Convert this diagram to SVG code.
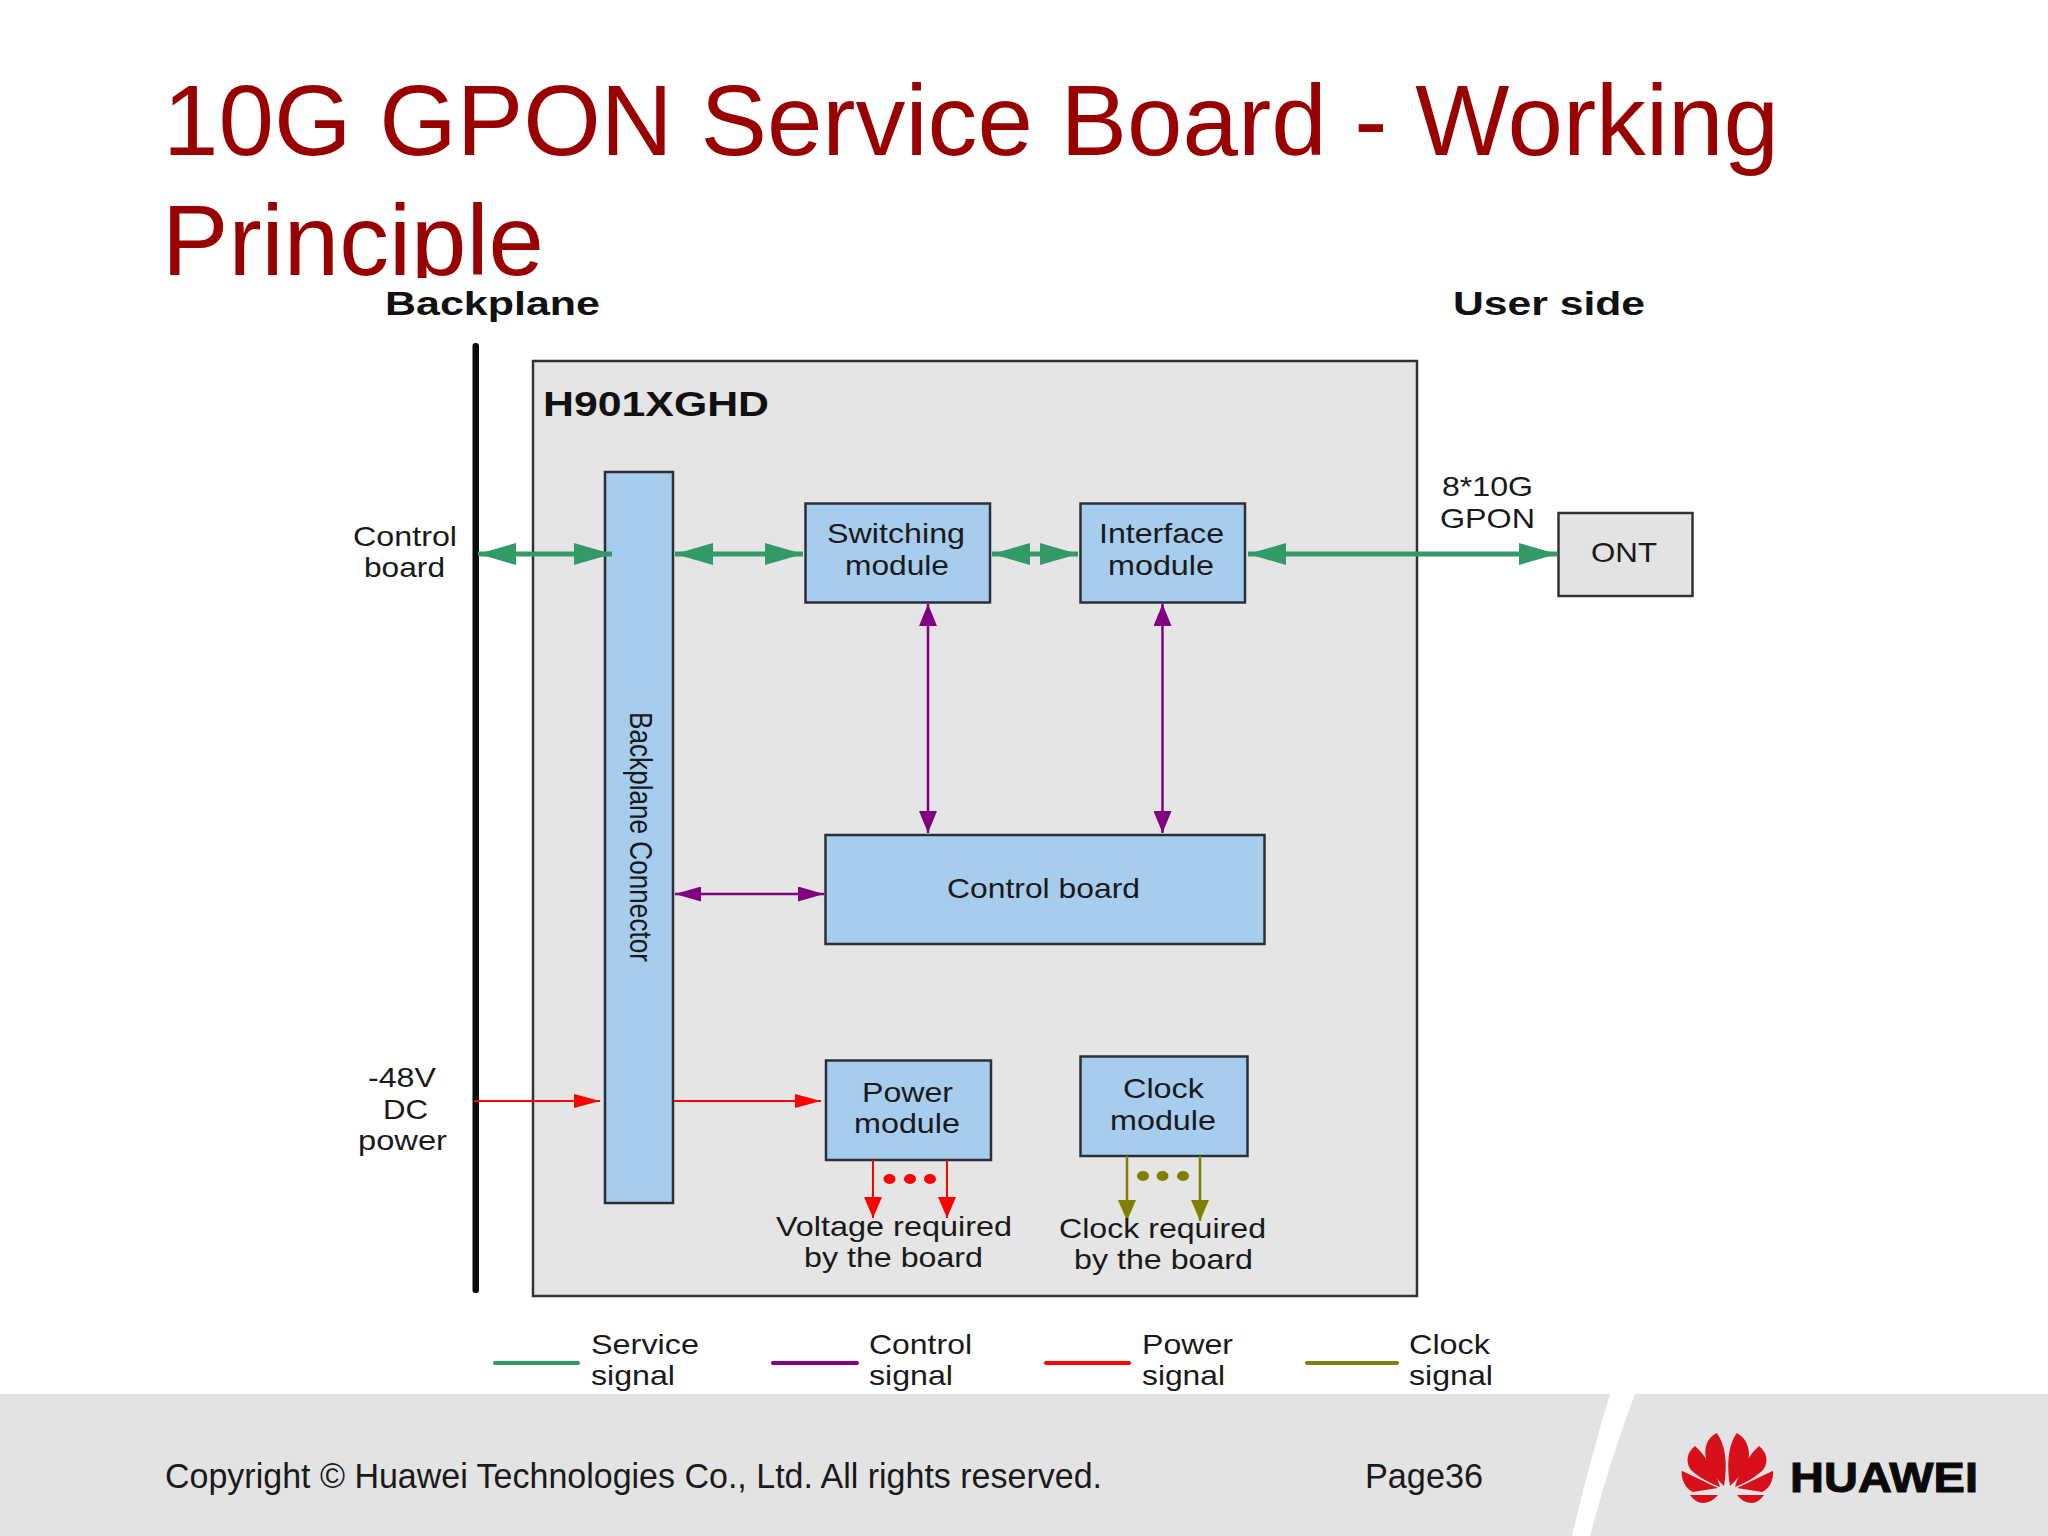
<svg xmlns="http://www.w3.org/2000/svg" width="2048" height="1536" viewBox="0 0 2048 1536">
<style>
text{font-family:"Liberation Sans",Arial,sans-serif;fill:#1a1a1a;font-size:28px}
.b{font-weight:700;font-size:33px;fill:#111}
.title{font-size:100px;fill:#990000}
.foot{font-size:34.500px;fill:#1a1a1a}
.box{fill:#a6cdee;stroke:#2b2f36;stroke-width:2.5}
.green{stroke:#339966;stroke-width:5;fill:none}
.purple{stroke:#800080;stroke-width:2.5;fill:none}
.red{stroke:#ff0000;stroke-width:2;fill:none}
.olive{stroke:#808000;stroke-width:2.5;fill:none}
.lg{stroke-width:4;stroke-linecap:round;fill:none}
</style>
<defs>
<marker id="mg" markerUnits="userSpaceOnUse" markerWidth="38" markerHeight="22" refX="38" refY="11" orient="auto-start-reverse"><path d="M0 0L38 11L0 22Z" fill="#339966"/></marker>
<marker id="mpv" markerUnits="userSpaceOnUse" markerWidth="22" markerHeight="18" refX="22" refY="9" orient="auto-start-reverse"><path d="M0 0L22 9L0 18Z" fill="#800080"/></marker>
<marker id="mph" markerUnits="userSpaceOnUse" markerWidth="26" markerHeight="15" refX="26" refY="7.5" orient="auto-start-reverse"><path d="M0 0L26 7.500L0 15Z" fill="#800080"/></marker>
<marker id="mrh" markerUnits="userSpaceOnUse" markerWidth="26" markerHeight="14" refX="26" refY="7" orient="auto"><path d="M0 0L26 7L0 14Z" fill="#ff0000"/></marker>
<marker id="mrv" markerUnits="userSpaceOnUse" markerWidth="21" markerHeight="18" refX="21" refY="9" orient="auto"><path d="M0 0L21 9L0 18Z" fill="#ff0000"/></marker>
<marker id="mov" markerUnits="userSpaceOnUse" markerWidth="21" markerHeight="18" refX="21" refY="9" orient="auto"><path d="M0 0L21 9L0 18Z" fill="#808000"/></marker>
</defs>
<rect width="2048" height="1536" fill="#fff"/>
<g id="title">
<text class="title" x="163" y="155" textLength="1616" lengthAdjust="spacingAndGlyphs">10G GPON Service Board - Working</text>
<text class="title" x="162" y="275" textLength="382" lengthAdjust="spacingAndGlyphs">Principle</text>
</g>
<rect x="0" y="278" width="2048" height="20" fill="#fff"/>
<g id="footer">
<path d="M0 1394H1610Q1590 1460 1572 1536H0Z" fill="#e3e3e3"/>
<path d="M1635 1394H2048V1536H1590Q1610 1460 1635 1394Z" fill="#e3e3e3"/>
<text class="foot" x="165" y="1488" textLength="937" lengthAdjust="spacingAndGlyphs">Copyright © Huawei Technologies Co., Ltd. All rights reserved.</text>
<text class="foot" x="1365" y="1488" textLength="118" lengthAdjust="spacingAndGlyphs">Page36</text>
</g>
<g id="logo">
<g fill="#d8101c">
<path d="M1716.700 1433C1706 1438 1703 1450 1707 1462C1711 1472 1718 1480 1724 1486C1727 1468 1727 1447 1716.700 1433Z"/>
<path d="M1736.700 1433C1747 1438 1751 1450 1748 1462C1744 1472 1736 1480 1730 1486C1727 1468 1727 1447 1736.700 1433Z"/>
<path d="M1695 1446C1687 1452 1685 1462 1691 1470C1698 1477 1710 1483 1720 1487C1716 1472 1706 1456 1695 1446Z"/>
<path d="M1759 1446C1767 1452 1769 1462 1763 1470C1756 1477 1745 1483 1735 1487C1739 1472 1748 1456 1759 1446Z"/>
<path d="M1681.700 1470.700C1681 1480 1686 1489 1693 1492L1718 1488Z"/>
<path d="M1773 1470.700C1774 1480 1769 1489 1762 1492L1737 1488Z"/>
<path d="M1690 1495H1718C1714 1500 1708 1503 1703 1503C1697 1503 1693 1499 1690 1495Z"/>
<path d="M1737 1495H1764C1761 1499 1757 1503 1752 1503C1746 1503 1741 1500 1737 1495Z"/>
</g>
<text class="b" x="1790" y="1492" style="font-size:42px;fill:#0a0a0a;stroke:#0a0a0a;stroke-width:1" textLength="188" lengthAdjust="spacingAndGlyphs">HUAWEI</text>
</g>
<g id="board"><rect x="533" y="361" width="884" height="935" fill="#e5e5e5" stroke="#333" stroke-width="2.500"/></g>
<g id="backplane-bar"><rect x="472.500" y="343" width="6.500" height="950" rx="3" fill="#0a0a0a"/></g>
<g id="backplane-connector"><rect class="box" x="605" y="472" width="68" height="731"/>
<text transform="translate(630,712) rotate(90) scale(1,1.28)" style="font-size:24px" textLength="250" lengthAdjust="spacingAndGlyphs">Backplane Connector</text></g>
<g id="switching"><rect class="box" x="805.500" y="503.500" width="184.500" height="99"/>
<text x="827" y="543" textLength="138" lengthAdjust="spacingAndGlyphs">Switching</text>
<text x="845" y="575" textLength="104" lengthAdjust="spacingAndGlyphs">module</text></g>
<g id="interface"><rect class="box" x="1080.500" y="503.500" width="164.500" height="99"/>
<text x="1099" y="543" textLength="125" lengthAdjust="spacingAndGlyphs">Interface</text>
<text x="1108" y="575" textLength="106" lengthAdjust="spacingAndGlyphs">module</text></g>
<g id="control"><rect class="box" x="825.500" y="835" width="439" height="109"/>
<text x="947" y="898" textLength="193" lengthAdjust="spacingAndGlyphs">Control board</text></g>
<g id="power"><rect class="box" x="826" y="1060.500" width="165" height="99.500"/>
<text x="862" y="1102" textLength="91" lengthAdjust="spacingAndGlyphs">Power</text>
<text x="854" y="1133" textLength="106" lengthAdjust="spacingAndGlyphs">module</text></g>
<g id="clock"><rect class="box" x="1080.500" y="1056.500" width="167" height="99.500"/>
<text x="1123" y="1098" textLength="81" lengthAdjust="spacingAndGlyphs">Clock</text>
<text x="1110" y="1130" textLength="106" lengthAdjust="spacingAndGlyphs">module</text></g>
<g id="ont"><rect x="1558.500" y="513" width="134" height="83" fill="#e3e3e3" stroke="#333" stroke-width="2.500"/>
<text x="1591" y="562" textLength="66" lengthAdjust="spacingAndGlyphs">ONT</text></g>
<g id="connectors">
<line class="green" x1="478" y1="554" x2="612" y2="554" marker-start="url(#mg)" marker-end="url(#mg)"/>
<line class="green" x1="675" y1="554" x2="803" y2="554" marker-start="url(#mg)" marker-end="url(#mg)"/>
<line class="green" x1="992" y1="554" x2="1078" y2="554" marker-start="url(#mg)" marker-end="url(#mg)"/>
<line class="green" x1="1248" y1="554" x2="1557" y2="554" marker-start="url(#mg)" marker-end="url(#mg)"/>
<line class="purple" x1="928" y1="604" x2="928" y2="833" marker-start="url(#mpv)" marker-end="url(#mpv)"/>
<line class="purple" x1="1162.500" y1="604" x2="1162.500" y2="833" marker-start="url(#mpv)" marker-end="url(#mpv)"/>
<line class="purple" x1="675" y1="894" x2="824" y2="894" marker-start="url(#mph)" marker-end="url(#mph)"/>
<line class="red" x1="474" y1="1101" x2="600" y2="1101" marker-end="url(#mrh)"/>
<line class="red" x1="674" y1="1101" x2="821" y2="1101" marker-end="url(#mrh)"/>
<line class="red" x1="873" y1="1160" x2="873" y2="1218" marker-end="url(#mrv)"/>
<line class="red" x1="947" y1="1160" x2="947" y2="1218" marker-end="url(#mrv)"/>
<line class="olive" x1="1127" y1="1156" x2="1127" y2="1221" marker-end="url(#mov)"/>
<line class="olive" x1="1200" y1="1156" x2="1200" y2="1221" marker-end="url(#mov)"/>
</g>
<g id="dots">
<g fill="#ff0000"><ellipse cx="889.500" cy="1179" rx="6" ry="5"/><ellipse cx="910" cy="1179" rx="6" ry="5"/><ellipse cx="930" cy="1179" rx="6" ry="5"/></g>
<g fill="#808000"><ellipse cx="1143" cy="1176" rx="6" ry="5"/><ellipse cx="1162.500" cy="1176" rx="6" ry="5"/><ellipse cx="1183" cy="1176" rx="6" ry="5"/></g>
</g>
<g id="labels">
<text class="b" x="385" y="315" textLength="215" lengthAdjust="spacingAndGlyphs">Backplane</text>
<text class="b" x="1453" y="315" textLength="192" lengthAdjust="spacingAndGlyphs">User side</text>
<text class="b" x="543" y="416" style="font-size:35px" textLength="226" lengthAdjust="spacingAndGlyphs">H901XGHD</text>
<text x="353" y="546" textLength="104" lengthAdjust="spacingAndGlyphs">Control</text>
<text x="364" y="577" textLength="81" lengthAdjust="spacingAndGlyphs">board</text>
<text x="368" y="1087" textLength="68" lengthAdjust="spacingAndGlyphs">-48V</text>
<text x="383" y="1119" textLength="45" lengthAdjust="spacingAndGlyphs">DC</text>
<text x="358" y="1150" textLength="89" lengthAdjust="spacingAndGlyphs">power</text>
<text x="1442" y="496" textLength="91" lengthAdjust="spacingAndGlyphs">8*10G</text>
<text x="1440" y="528" textLength="95" lengthAdjust="spacingAndGlyphs">GPON</text>
<text x="776" y="1236" textLength="236" lengthAdjust="spacingAndGlyphs">Voltage required</text>
<text x="804" y="1267" textLength="179" lengthAdjust="spacingAndGlyphs">by the board</text>
<text x="1059" y="1238" textLength="207" lengthAdjust="spacingAndGlyphs">Clock required</text>
<text x="1074" y="1269" textLength="179" lengthAdjust="spacingAndGlyphs">by the board</text>
</g>
<g id="legend">
<line class="lg" x1="495" y1="1363" x2="578" y2="1363" stroke="#339966"/>
<line class="lg" x1="773" y1="1363" x2="857" y2="1363" stroke="#800080"/>
<line class="lg" x1="1046" y1="1363" x2="1129" y2="1363" stroke="#ff0000"/>
<line class="lg" x1="1307" y1="1363" x2="1397" y2="1363" stroke="#808000"/>
<text x="591" y="1354" textLength="108" lengthAdjust="spacingAndGlyphs">Service</text>
<text x="591" y="1385" textLength="84" lengthAdjust="spacingAndGlyphs">signal</text>
<text x="869" y="1354" textLength="103" lengthAdjust="spacingAndGlyphs">Control</text>
<text x="869" y="1385" textLength="84" lengthAdjust="spacingAndGlyphs">signal</text>
<text x="1142" y="1354" textLength="91" lengthAdjust="spacingAndGlyphs">Power</text>
<text x="1142" y="1385" textLength="83" lengthAdjust="spacingAndGlyphs">signal</text>
<text x="1409" y="1354" textLength="81" lengthAdjust="spacingAndGlyphs">Clock</text>
<text x="1409" y="1385" textLength="84" lengthAdjust="spacingAndGlyphs">signal</text>
</g>
</svg>
